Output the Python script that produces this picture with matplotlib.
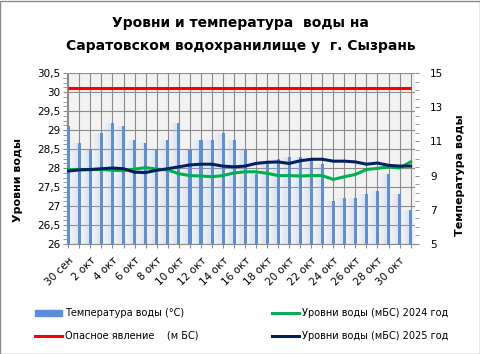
#!/usr/bin/env python3
# -*- coding: utf-8 -*-

# Уровни и температура воды, Саратовское водохранилище (г. Сызрань), октябрь

import matplotlib
matplotlib.use("Agg")
import matplotlib.pyplot as plt
from matplotlib.lines import Line2D
from matplotlib.patches import Patch, Rectangle
from matplotlib.ticker import MultipleLocator

plt.rcParams['font.family'] = ['DejaVu Sans']

# дані
dates = ["30 сен"] + [f"{d} окт" for d in range(1, 32)]

temp = [11.9, 10.9, 10.5, 11.5, 12.1, 11.9, 11.1, 10.9, 10.5, 11.1,
        12.1, 10.5, 11.1, 11.1, 11.5, 11.1, 10.5, 9.1, 9.8, 10.0,
        10.1, 10.1, 9.9, 9.7, 7.5, 7.7, 7.7, 7.9, 8.1, 9.1,
        7.9, 7.0]

level_2024 = [27.96, 27.96, 27.96, 27.96, 27.94, 27.93, 27.97, 28.01, 27.97, 27.95,
              27.85, 27.80, 27.79, 27.77, 27.80, 27.87, 27.90, 27.90, 27.86, 27.80,
              27.80, 27.79, 27.80, 27.80, 27.70, 27.77, 27.83, 27.96, 27.99, 28.03,
              28.00, 28.16]

level_2025 = [27.92, 27.95, 27.96, 27.98, 28.00, 27.98, 27.89, 27.88, 27.94, 27.98,
              28.03, 28.08, 28.10, 28.10, 28.05, 28.03, 28.05, 28.12, 28.15, 28.16,
              28.12, 28.19, 28.23, 28.23, 28.18, 28.18, 28.16, 28.10, 28.13, 28.07,
              28.05, 28.05]

danger_level = 30.1
danger = [danger_level] * len(dates)

temp_ticks = [5, 7, 9, 11, 13, 15]

# кольори
C_BAR = "#5b8fd8"
C_GLOW = "#a9c1e6"
C_2024 = "#00b050"
C_2025 = "#002060"
C_RED = "#ff0000"
C_GRID = "#8c8c8c"

x = list(range(len(dates)))

fig = plt.figure(figsize=(4.81, 3.54), dpi=100)
fig.patches.append(Rectangle((0.001, 0.001), 0.997, 0.996, transform=fig.transFigure,
                             fill=False, edgecolor="#8a8a8a", linewidth=1.0))

ax = fig.add_axes([67 / 481, 1 - 244 / 354, (415 - 67) / 481, (244 - 73) / 354])
ax.set_facecolor("#f2f2f2")
ax.set_xlim(-0.12, 31.4)
ax.set_ylim(26, 30.5)
ax.yaxis.set_major_locator(MultipleLocator(0.5))
ax.yaxis.set_minor_locator(MultipleLocator(0.125))
ax.yaxis.set_major_formatter(plt.FuncFormatter(lambda v, p: f"{v:g}".replace(".", ",")))
ax.grid(True, axis="both", color=C_GRID, linewidth=0.8)
ax.set_axisbelow(True)
ax.set_xticks(x)
ax.set_xticklabels([d if i % 2 == 0 else "" for i, d in enumerate(dates)],
                   rotation=45, ha="right", rotation_mode="anchor", fontsize=7.5)
ax.tick_params(axis="x", length=3, color=C_GRID, pad=5)
ax.tick_params(axis="y", which="both", length=3, color=C_GRID, labelsize=7.5, pad=2)
for s in ("top", "right"):
    ax.spines[s].set_visible(False)
for s in ("left", "bottom"):
    ax.spines[s].set_color(C_GRID)

# температура (права вісь)
axT = ax.twinx()
axT.set_ylim(5, 15)
axT.set_yticks(temp_ticks)
axT.yaxis.set_minor_locator(MultipleLocator(0.5))
axT.tick_params(axis="y", which="both", length=3, color=C_GRID, labelsize=7.5, pad=8)
for s in axT.spines.values():
    s.set_visible(False)
bottom = 5
hts = [t - bottom for t in temp]
for w in (0.55, 0.3):
    axT.bar([i - 0.12 for i in x], hts, width=-w, bottom=bottom, align="edge",
            color=C_GLOW, alpha=0.12, linewidth=0)
axT.bar([i - 0.12 for i in x], hts, width=0.28, bottom=bottom, align="edge",
        color=C_BAR, linewidth=0)

# рівні (ліва вісь)
axL = ax.twinx()
axL.set_ylim(26, 30.5)
axL.axis("off")
axL.plot(x, danger, color=C_RED, linewidth=2.2, solid_capstyle="butt")
axL.plot(x, level_2024, color=C_2024, linewidth=2.2)
axL.plot(x, level_2025, color=C_2025, linewidth=2.2)

fig.text(240 / 481, 1 - 23 / 354, "Уровни и температура  воды на",
         ha="center", va="center", fontsize=10, fontweight="bold")
fig.text(241 / 481, 1 - 46 / 354, "Саратовском водохранилище у  г. Сызрань",
         ha="center", va="center", fontsize=10, fontweight="bold")

fig.text(18 / 481, 1 - 180 / 354, "Уровни воды", rotation=90,
         ha="center", va="center", fontsize=8, fontweight="bold")
fig.text(460 / 481, 1 - 175 / 354, "Температура воды", rotation=90,
         ha="center", va="center", fontsize=8, fontweight="bold")

handles = [Patch(color=C_BAR),
           Line2D([], [], color=C_RED, linewidth=2.2),
           Line2D([], [], color=C_2024, linewidth=2.2),
           Line2D([], [], color=C_2025, linewidth=2.2)]
labels = ["Температура воды (°C)",
          "Опасное явление    (м БС)",
          "Уровни воды (мБС) 2024 год",
          "Уровни воды (мБС) 2025 год"]
fig.legend(handles, labels, ncol=2, frameon=False, fontsize=7,
           loc="lower left", bbox_to_anchor=(35 / 481, 13 / 354),
           handlelength=2.8, handletextpad=0.25, columnspacing=7.6,
           labelspacing=1.3, borderpad=0, borderaxespad=0)

fig.savefig("out.png", dpi=100)
